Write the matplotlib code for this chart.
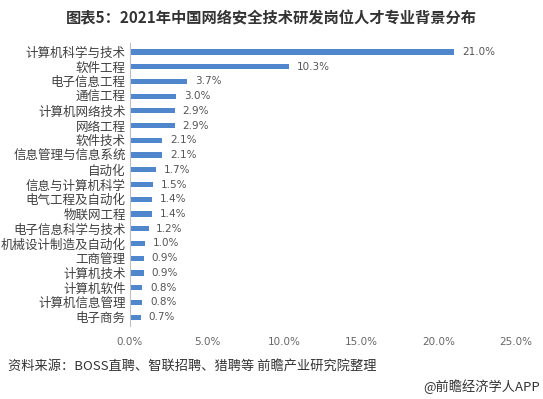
import matplotlib.pyplot as plt
import numpy as np

plt.rcParams['font.family'] = ['Noto Sans CJK SC', 'DejaVu Sans']

majors = ['计算机科学与技术', '软件工程', '电子信息工程', '通信工程', '计算机网络技术',
          '网络工程', '软件技术', '信息管理与信息系统', '自动化', '信息与计算机科学',
          '电气工程及自动化', '物联网工程', '电子信息科学与技术', '机械设计制造及自动化',
          '工商管理', '计算机技术', '计算机软件', '计算机信息管理', '电子商务']
share = [21.0, 10.3, 3.7, 3.0, 2.9, 2.9, 2.1, 2.1, 1.7, 1.5, 1.4, 1.4, 1.2, 1.0,
         0.9, 0.9, 0.8, 0.8, 0.7]
xticks = [0, 5, 10, 15, 20, 25]

fig = plt.figure(figsize=(5.43, 3.99), dpi=100)
ax = fig.add_axes([0.2394, 0.183, 0.711, 0.709])

y = np.arange(len(majors))
ax.barh(y, share, height=0.35, color='#4f86cc')
ax.set_ylim(len(majors) - 0.4, -0.6)
ax.set_xlim(0, 25)

for yi, v in zip(y, share):
    ax.text(v + 0.5, yi, f'{v:.1f}%', va='center', ha='left', fontsize=7.5,
            color='#555555', family='DejaVu Sans')

ax.set_yticks(y)
ax.set_yticklabels(majors, fontsize=9, color='#404040')
ax.set_xticks(xticks)
ax.set_xticklabels([f'{t:.1f}%' for t in xticks], fontsize=7.5, color='#666666',
                   family='DejaVu Sans')
ax.tick_params(length=0)
ax.tick_params(axis='y', pad=3)
ax.tick_params(axis='x', pad=8)
for s in ['top', 'right', 'bottom']:
    ax.spines[s].set_visible(False)
ax.spines['left'].set_color('#bfbfbf')

fig.text(0.5, 0.955, '图表5：2021年中国网络安全技术研发岗位人才专业背景分布',
         ha='center', va='center', fontsize=11, fontweight='bold', color='#333333')
fig.text(0.015, 0.083, '资料来源：BOSS直聘、智联招聘、猎聘等 前瞻产业研究院整理',
         ha='left', va='center', fontsize=9.5, color='#333333')
fig.text(0.995, 0.03, '@前瞻经济学人APP', ha='right', va='center', fontsize=9.5,
         color='#333333')

fig.savefig('out.png', dpi=100)
